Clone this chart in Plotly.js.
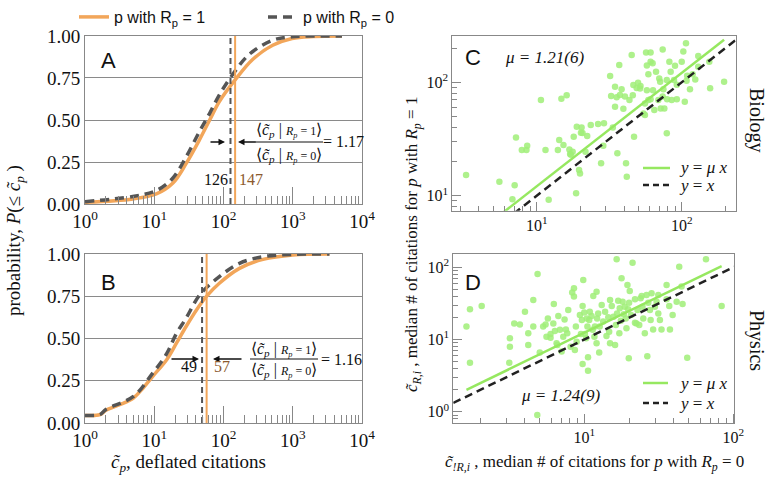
<!DOCTYPE html>
<html><head><meta charset="utf-8">
<script src="https://cdn.plot.ly/plotly-3.0.1.min.js"></script>
<style>html,body{margin:0;padding:0;background:#fff}#chart{width:768px;height:478px}</style>
</head><body><div id="chart"></div>
<script>
// ---------- Panel A (Biology CDF) ----------
const A_R1_cites = [1, 4.9, 10.7, 18.6, 28.8, 44.7, 63.1, 87.1, 148, 263, 513, 977, 1995, 5129];
const A_R1_prob  = [0.01, 0.03, 0.06, 0.125, 0.24, 0.38, 0.50, 0.61, 0.74, 0.86, 0.945, 0.985, 0.997, 1.0];
const A_R0_cites = [1, 4.9, 10.7, 18.6, 28.8, 44.7, 63.1, 87.1, 135, 234, 513, 977, 1995, 5129];
const A_R0_prob  = [0.014, 0.045, 0.08, 0.155, 0.28, 0.43, 0.54, 0.65, 0.77, 0.89, 0.975, 0.995, 1.0, 1.0];
const A_means = {R0: 126, R1: 147};
const A_ratio = "1.17";
// ---------- Panel B (Physics CDF) ----------
const B_R1_cites = [1, 1.64, 2.0, 3.16, 5.0, 6.9, 9.5, 15.1, 20.9, 28.8, 40.7, 57.5, 87.1, 170, 372, 1000, 3388];
const B_R1_prob  = [0.045, 0.049, 0.075, 0.108, 0.148, 0.207, 0.276, 0.374, 0.472, 0.571, 0.669, 0.752, 0.827, 0.915, 0.968, 0.994, 1.0];
const B_R0_cites = [1, 1.64, 2.0, 5.0, 9.5, 15.1, 20.9, 28.8, 45.7, 87.1, 170, 372, 1000, 3388];
const B_R0_prob  = [0.045, 0.05, 0.08, 0.157, 0.295, 0.41, 0.53, 0.62, 0.76, 0.866, 0.945, 0.984, 0.998, 1.0];
const B_means = {R0: 49, R1: 57};
const B_ratio = "1.16";
// ---------- Panel C (Biology scatter) ----------
const C_x = [3.26,5.53,7.05,6.8,7.2,7.9,8.6,8.5,10.7,11.5,
  12.1,14.0,14.3,14.8,16.1,15.3,16.8,17.0,17.2,17.7,
  18.7,18.0,18.9,19.6,20.4,20.2,20.7,22.3,21.7,23.6,
  26.5,27.8,28.8,29.1,32.1,32.6,33.5,34.7,34.7,35.6,
  36.0,37.1,37.5,38.5,39.6,40.6,41.3,41.8,43.6,45.2,
  46.0,46.4,46.9,48.9,50.0,51.6,52.0,54.5,55.8,55.8,
  56.8,58.9,57.5,58.9,57.5,61,61,61,63,63.4,
  64.7,66.5,69,70,71,71.6,73.9,74.8,73.9,75.9,
  78.9,79.3,82.2,83.9,78.9,85.3,88.5,89.9,92.5,92.5,
  100,102.6,108,107,109,114,119,124,130,130,
  157,155,196,105,19.9];
const C_y = [15.2,13.3,12.4,9.3,32.7,25.3,27.6,25.3,69.8,25.3,
  9.2,25.3,31.0,71.8,76.8,28.0,25.6,23.3,23.0,24.4,
  10.5,33.2,40.6,16.9,40.0,36.0,35.8,33.6,24.4,42.0,
  42.9,19.3,27.6,43.5,113.7,75.7,40.0,91.5,61.0,73.8,
  23.7,142,77.3,86.7,58.6,74.8,19.3,14.7,69.8,174,
  77,94.6,33.2,89,99,88,93,53,51.5,65,
  183,118,85,70,141,183,152,71,147,85,
  57,124,70,108,101,58.9,195,86.7,74.8,58.9,
  105,71,152,124,35.5,70,105,140,95,71,
  152,187,103,221,114,86.7,118,106,171,137,
  88.5,152,101,67.5,15.7];
const C_mu = 1.21, C_mu_label = "1.21(6)";
// ---------- Panel D (Physics scatter) ----------
const D_x = [1.62,1.71,1.71,2.05,3.14,3.17,3.17,3.39,3.70,4.0,
  4.21,4.21,4.55,4.55,4.86,4.84,5.03,5.3,5.5,5.58,
  5.7,5.94,5.94,6.2,6.25,6.35,6.52,6.6,6.7,6.87,
  7.05,7.23,7.38,7.53,7.69,7.81,8.1,8.3,8.53,8.53,
  8.65,8.79,8.89,9.35,9.5,9.64,9.75,9.75,9.85,10.0,
  10.1,10.3,10.4,10.5,10.6,10.6,10.8,10.9,11.2,11.4,
  11.5,11.7,11.8,12.1,12.2,12.4,12.6,12.7,13.1,13.4,
  13.8,14.1,14.5,14.7,14.9,15.3,15.7,16.1,16.3,16.5,
  16.6,16.9,17.2,17.3,17.6,17.8,18.1,18.4,18.7,19.0,
  19.2,19.5,19.7,20.0,20.2,20.6,21.1,19.9,21.9,21.9,
  22.4,22.8,23.4,23.9,24.3,24.6,24.9,25.5,26.9,27.6,
  27.9,26.5,28.3,29.0,29.8,30.6,31.4,32.2,33.0,35.7,
  37.2,37.6,39.2,35.7,41.7,43.4,45.0,45.7,49.1,65.6,
  83.6,14.9,12.1,26.2,31.4];
const D_y = [15.1,26.2,4.78,29.1,4.78,10.4,7.96,16.7,16.2,24.3,
  12.2,8.4,15.1,35.2,80.9,0.9,6.6,15.1,16.2,10.9,
  19.6,11.9,10.6,16.7,31.0,13.1,8.85,8.4,21.2,13.6,
  6.8,10.9,19.0,13.8,12.2,25.6,7.96,44.6,39.3,51.2,
  7.16,15.1,9.33,21.9,11.9,18.6,29.1,4.57,66.7,23.6,
  11.9,10.4,19.6,15.1,5.66,3.7,18.6,24.3,21.2,13.6,
  40.1,10.9,15.1,8.85,19.6,23.0,6.6,15.1,30.1,17.7,
  24.3,11.2,20.3,12.8,8.85,29.1,20.7,8.4,15.9,129,
  23.0,34.5,12.2,27.0,18.2,70.5,33.4,22.3,28.5,19.6,
  14.3,56.9,26.2,32.4,47.0,21.9,116,5.5,36.1,17.1,
  16.7,25.6,15.9,37.2,40.1,28.5,19.6,12.2,32.4,25.6,
  18.6,5.85,43.6,13.8,28.5,33.4,23.0,18.6,13.8,36.1,
  29.1,13.8,21.9,56.9,33.4,102,54,31.0,5.6,129,
  29.1,35.2,46,41.4,41.4];
const D_mu = 1.24, D_mu_label = "1.24(9)";

// ---------- tick labels ----------
const decadeVals = [1, 10, 100, 1000, 10000];
const decadeText = ['10<sup>0</sup>','10<sup>1</sup>','10<sup>2</sup>','10<sup>3</sup>','10<sup>4</sup>'];
const probVals = [0, 0.25, 0.5, 0.75, 1];
const probText = ['0.00','0.25','0.50','0.75','1.00'];
const minorVals = [];
for (let e = -1; e <= 4; e++) for (let k = 2; k <= 9; k++) minorVals.push(k * Math.pow(10, e));

// ---------- styling ----------
const ORANGE = '#f2a65a', GRAY = '#555555', GREEN = '#96e860', DOT = 'rgba(160,238,120,0.85)';
const SERIF = 'Liberation Serif', SANS = 'Liberation Sans';
const W = 768, H = 478;
const px = v => v / W, py = v => 1 - v / H;

const traces = [];
// A curves
traces.push({x: A_R1_cites, y: A_R1_prob, xaxis:'x', yaxis:'y', mode:'lines', line:{color:ORANGE, width:3.5, shape:'spline'}, name:'p with R<sub>p</sub> = 1', legend:'legend'});
traces.push({x: A_R0_cites, y: A_R0_prob, xaxis:'x', yaxis:'y', mode:'lines', line:{color:GRAY, width:3.5, dash:'9px,6px', shape:'spline'}, name:'p with R<sub>p</sub> = 0', legend:'legend'});
traces.push({x:[A_means.R0, A_means.R0], y:[0,1], xaxis:'x', yaxis:'y', mode:'lines', line:{color:GRAY, width:2, dash:'6px,4px'}, showlegend:false});
traces.push({x:[A_means.R1, A_means.R1], y:[0,1], xaxis:'x', yaxis:'y', mode:'lines', line:{color:ORANGE, width:2}, showlegend:false});
// B curves
traces.push({x: B_R1_cites, y: B_R1_prob, xaxis:'x2', yaxis:'y2', mode:'lines', line:{color:ORANGE, width:3.5, shape:'spline'}, showlegend:false});
traces.push({x: B_R0_cites, y: B_R0_prob, xaxis:'x2', yaxis:'y2', mode:'lines', line:{color:GRAY, width:3.5, dash:'9px,6px', shape:'spline'}, showlegend:false});
traces.push({x:[B_means.R0, B_means.R0], y:[0,1], xaxis:'x2', yaxis:'y2', mode:'lines', line:{color:GRAY, width:2, dash:'6px,4px'}, showlegend:false});
traces.push({x:[B_means.R1, B_means.R1], y:[0,1], xaxis:'x2', yaxis:'y2', mode:'lines', line:{color:ORANGE, width:2}, showlegend:false});

// scatter panels
const C_xr = [0.418, 2.372], C_yr = [0.868, 2.411];
const D_xr = [0.121, 2.007], D_yr = [-0.152, 2.184];
function fitLine(xs, mu) { const lo = Math.min(...xs), hi = Math.max(...xs); return {x:[lo, hi], y:[mu*lo, mu*hi]}; }
function idLine(r) { const lo = Math.pow(10, r[0]), hi = Math.pow(10, r[1]); return {x:[lo, hi], y:[lo, hi]}; }
const cFit = fitLine(C_x, C_mu), cId = idLine(C_xr);
const dFit = fitLine(D_x, D_mu), dId = idLine(D_xr);
traces.push({x:C_x, y:C_y, xaxis:'x3', yaxis:'y3', mode:'markers', marker:{color:DOT, size:6.5}, showlegend:false});
traces.push({x:cFit.x, y:cFit.y, xaxis:'x3', yaxis:'y3', mode:'lines', line:{color:GREEN, width:2.5}, showlegend:false});
traces.push({x:cId.x, y:cId.y, xaxis:'x3', yaxis:'y3', mode:'lines', line:{color:'#222', width:2.5, dash:'8px,5px'}, showlegend:false});
traces.push({x:D_x, y:D_y, xaxis:'x4', yaxis:'y4', mode:'markers', marker:{color:DOT, size:6.5}, showlegend:false});
traces.push({x:dFit.x, y:dFit.y, xaxis:'x4', yaxis:'y4', mode:'lines', line:{color:GREEN, width:2.5}, showlegend:false});
traces.push({x:dId.x, y:dId.y, xaxis:'x4', yaxis:'y4', mode:'lines', line:{color:'#222', width:2.5, dash:'8px,5px'}, showlegend:false});

const frame = {showline:true, mirror:true, linecolor:'#888', linewidth:1, zeroline:false};
function cdfX(domain, anchor) {
  return Object.assign({domain, anchor, type:'log', range:[0,4], tickmode:'array', tickvals:decadeVals, ticktext:decadeText,
    ticks:'inside', ticklen:17, tickcolor:'#888', showgrid:false, tickfont:{family:SERIF, size:19, color:'#111'},
    minor:{tickmode:'array', tickvals:minorVals, ticks:'inside', ticklen:8, tickcolor:'#888', showgrid:false}}, frame);
}
function cdfY(domain, anchor) {
  return Object.assign({domain, anchor, range:[0,1], tickmode:'array', tickvals:probVals, ticktext:probText, ticks:'',
    showgrid:true, gridcolor:'#8a8a8a', gridwidth:1, tickfont:{family:SERIF, size:19, color:'#111'}}, frame);
}
function logAx(domain, anchor, range, vals, texts) {
  return Object.assign({domain, anchor, type:'log', range, tickmode:'array', tickvals:vals, ticktext:texts,
    ticks:'inside', ticklen:9, tickcolor:'#888', showgrid:false, tickfont:{family:SERIF, size:16, color:'#111'},
    minor:{tickmode:'array', tickvals:minorVals, ticks:'inside', ticklen:5, tickcolor:'#888', showgrid:false}}, frame);
}

const ann = [];
const T = (x, y, text, opts) => ann.push(Object.assign({xref:'paper', yref:'paper', x:px(x), y:py(y), text, showarrow:false, xanchor:'center', yanchor:'middle', font:{family:SERIF, size:16, color:'#111'}}, opts||{}));
const ARR = (x, y, ax) => ann.push({xref:'paper', yref:'paper', x:px(x), y:py(y), text:'', showarrow:true, ax, ay:0, arrowhead:2, arrowsize:1, arrowwidth:1.3, arrowcolor:'#111'});

// panel letters
T(108, 60, 'A', {font:{family:SANS, size:22, color:'#111'}});
T(108, 282, 'B', {font:{family:SANS, size:22, color:'#111'}});
T(473, 57, 'C', {font:{family:SANS, size:22, color:'#111'}});
T(473, 282, 'D', {font:{family:SANS, size:22, color:'#111'}});
T(544, 57, '<i>μ = ' + C_mu_label + '</i>', {font:{family:SERIF, size:17, color:'#111'}});
T(560, 395, '<i>μ = ' + D_mu_label + '</i>', {font:{family:SERIF, size:17, color:'#111'}});

// fractions
const num = '⟨<i>c̃<sub>p</sub></i> | <span style="font-size:12px"><i>R<sub>p</sub></i> = 1</span>⟩';
const den = '⟨<i>c̃<sub>p</sub></i> | <span style="font-size:12px"><i>R<sub>p</sub></i> = 0</span>⟩';
T(289, 130, num); T(289, 155, den); T(343, 142, '= ' + A_ratio);
ARR(225, 142, -16); ARR(238, 142, 19);
T(216, 179, String(A_means.R0)); T(251, 179, String(A_means.R1), {font:{family:SERIF, size:16, color:'#8c5a2e'}});
T(284, 349, num); T(284, 370, den); T(341, 359, '= ' + B_ratio);
ARR(199, 359, -29); ARR(213, 359, 30);
T(189, 366, String(B_means.R0)); T(222, 366, String(B_means.R1), {font:{family:SERIF, size:16, color:'#8c5a2e'}});

// in-panel legends (C, D)
const LG = (x, y, text) => T(x, y, text, {xanchor:'left', font:{family:SERIF, size:17, color:'#111'}});
LG(677, 167, '<i>y</i> = <i>μ x</i>'); LG(677, 185, '<i>y</i> = <i>x</i>');
LG(677, 383, '<i>y</i> = <i>μ x</i>'); LG(677, 403, '<i>y</i> = <i>x</i>');

// axis titles
T(15, 241, 'probability, <i>P</i>(≤ <i>c̃<sub>p</sub></i> )', {textangle:-90, font:{family:SERIF, size:19, color:'#111'}});
T(188, 463, '<i>c̃<sub>p</sub></i>, deflated citations', {font:{family:SERIF, size:19, color:'#111'}});
T(413, 245, '<i>c̃<sub>R,i</sub></i> , median # of citations for <i>p</i> with <i>R<sub>p</sub></i> = 1', {textangle:-90, font:{family:SERIF, size:17, color:'#111'}});
T(594, 463, '<i>c̃<sub>!R,i</sub></i> , median # of citations for <i>p</i> with <i>R<sub>p</sub></i> = 0', {font:{family:SERIF, size:17, color:'#111'}});
T(757, 120, 'Biology', {textangle:90, font:{family:SERIF, size:20, color:'#111'}});
T(757, 340, 'Physics', {textangle:90, font:{family:SERIF, size:20, color:'#111'}});

const L = (x0, x1, y, color, dash) => ({type:'line', xref:'paper', yref:'paper', x0:px(x0), x1:px(x1), y0:py(y), y1:py(y), line:{color, width: dash ? 2.5 : 2.5, dash: dash || 'solid'}});
const shapes = [
  {type:'line', xref:'paper', yref:'paper', x0:px(255), x1:px(323), y0:py(142), y1:py(142), line:{color:'#111', width:1}},
  {type:'line', xref:'paper', yref:'paper', x0:px(250), x1:px(318), y0:py(359), y1:py(359), line:{color:'#111', width:1}},
  L(643, 670, 168, GREEN), L(643, 670, 185, '#222', '6px,4px'),
  L(643, 668, 383, GREEN), L(643, 668, 403, '#222', '6px,4px')
];

const layout = {
  width:W, height:H, margin:{l:0, r:0, t:0, b:0}, paper_bgcolor:'#fff', plot_bgcolor:'#fff',
  font:{family:SERIF, color:'#111'},
  xaxis: cdfX([0.1107, 0.4714], 'y'),
  yaxis: cdfY([0.5732, 0.9247], 'x'),
  xaxis2: cdfX([0.1107, 0.4714], 'y2'),
  yaxis2: cdfY([0.1151, 0.4686], 'x2'),
  xaxis3: logAx([0.5889, 0.9579], 'y3', C_xr, [10, 100], ['10<sup>1</sup>','10<sup>2</sup>']),
  yaxis3: logAx([0.5592, 0.9253], 'x3', C_yr, [10, 100], ['10<sup>1</sup>','10<sup>2</sup>']),
  xaxis4: logAx([0.5902, 0.9561], 'y4', D_xr, [10, 100], ['10<sup>1</sup>','10<sup>2</sup>']),
  yaxis4: logAx([0.1157, 0.4686], 'x4', D_yr, [1, 10, 100], ['10<sup>0</sup>','10<sup>1</sup>','10<sup>2</sup>']),
  showlegend:true,
  legend:{orientation:'h', x:px(74), y:1, xanchor:'left', yanchor:'top', entrywidth:144, entrywidthmode:'pixels', bgcolor:'rgba(0,0,0,0)', font:{family:SANS, size:16, color:'#111'}},
  annotations: ann, shapes
};
Plotly.newPlot('chart', traces, layout, {staticPlot:true, displayModeBar:false});
</script></body></html>
